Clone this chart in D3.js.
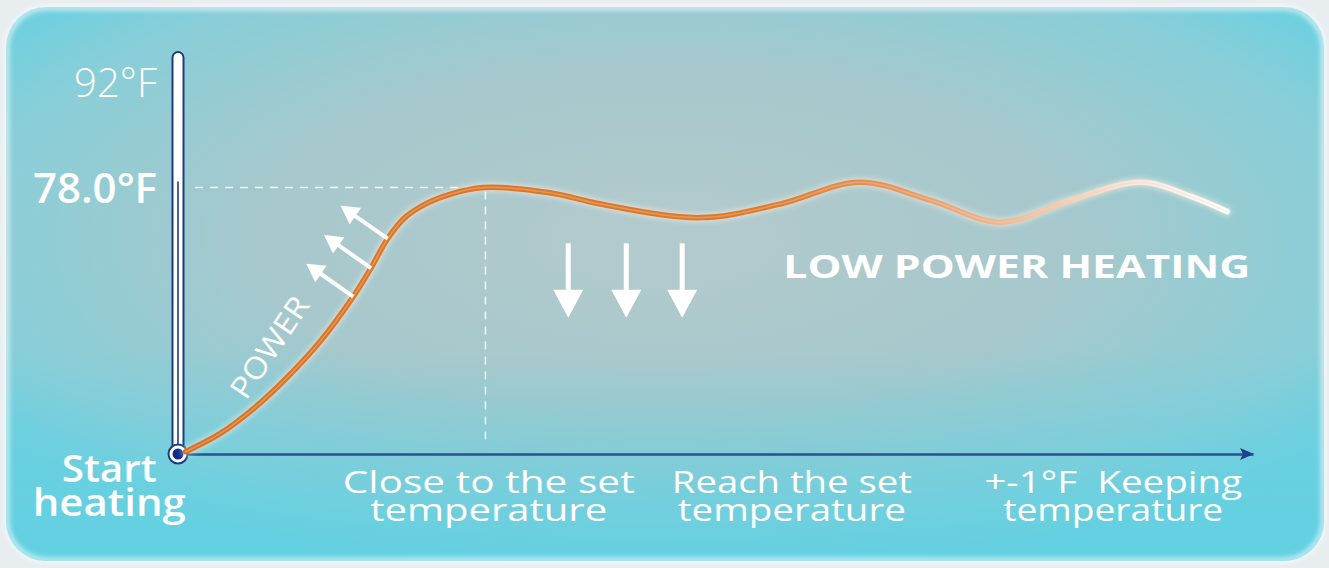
<!DOCTYPE html>
<html>
<head>
<meta charset="utf-8">
<script src="https://cdn.jsdelivr.net/npm/d3@7"></script>
<style>
  html, body { margin: 0; padding: 0; background: #e8eef0; }
  svg { display: block; font-family: "Open Sans", sans-serif; }
</style>
</head>
<body>
<script>
// heating curve (time in % of the cycle, temperature in °F)
const timeMin = [0.7, 3.9, 7.0, 10.1, 13.2, 16.3, 17.95, 19.5, 21.1, 23.0, 25.3, 28.4, 34.6, 39.3, 48.6, 56.0, 63.4, 70.0, 76.5, 83.0, 89.5, 94.1, 97.6];
const tempF   = [42.9, 45.3, 48.6, 52.7, 57.5, 63.5, 67.3, 71.2, 74.0, 75.8, 77.1, 78.0, 77.3, 75.8, 74.0, 75.8, 78.7, 76.3, 73.4, 76.3, 78.7, 76.9, 74.8];

// y tick labels (thermometer)
const yTicks = [92, 78];
const yTickLabels = ["92°F", "78.0°F"];

// set point
const setTemp = 78;
const setTime = 28.6;

// phase labels under the time axis
const phaseTimes = [-6.4, 28.9, 57.1, 87.0];
const phaseLines = [
  ["Start", "heating"],
  ["Close to the set", "temperature"],
  ["Reach the set", "temperature"],
  ["+-1°F\u00a0 Keeping", "temperature"]
];

// annotation arrows
const powerArrowTimes = [16.3, 17.95, 19.5];
const powerArrowTemps = [63.5, 67.3, 71.2];
const coolArrowTimes = [36.3, 41.7, 46.9];
const coolArrowTop = 70.6, coolArrowTip = 60.7;

window.onload = function () {
  const w = 1329, h = 568;

  const svg = d3.select("body").append("svg")
    .attr("width", w)
    .attr("height", h);

  //scales
  const x = d3.scaleLinear().domain([0, 100]).range([178, 1253]);
  const y = d3.scaleLinear().domain([42.6, 96]).range([454, 52]);
  const x0 = x(0), yBase = y(42.6);

  const defs = svg.append("defs");

  //panel background
  const bg = defs.append("radialGradient").attr("id", "bg")
    .attr("cx", 0.5).attr("cy", 0.42).attr("r", 0.62);
  bg.append("stop").attr("offset", 0).attr("stop-color", "#b3cacd");
  bg.append("stop").attr("offset", 0.5).attr("stop-color", "#a6c8cc");
  bg.append("stop").attr("offset", 0.85).attr("stop-color", "#89ced8");
  bg.append("stop").attr("offset", 1).attr("stop-color", "#70d0df");

  const bottomGlow = defs.append("linearGradient").attr("id", "bottomGlow")
    .attr("x1", 0).attr("y1", 0).attr("x2", 0).attr("y2", 1);
  bottomGlow.append("stop").attr("offset", 0.62).attr("stop-color", "#5fd0e2").attr("stop-opacity", 0);
  bottomGlow.append("stop").attr("offset", 1).attr("stop-color", "#5fd0e2").attr("stop-opacity", 0.8);

  //curve colour fades to white at the end
  const heat = defs.append("linearGradient").attr("id", "heat")
    .attr("gradientUnits", "userSpaceOnUse")
    .attr("x1", x(timeMin[0])).attr("x2", x(timeMin[timeMin.length - 1]))
    .attr("y1", 0).attr("y2", 0);
  [[0, "#dc7223"], [0.55, "#de7a2c"], [0.68, "#e7955e"], [0.8, "#efbe9d"], [0.9, "#f7e4d9"], [1, "#ffffff"]]
    .forEach(s => heat.append("stop").attr("offset", s[0]).attr("stop-color", s[1]));

  const blur = defs.append("filter").attr("id", "blur")
    .attr("x", "-10%").attr("y", "-10%").attr("width", "120%").attr("height", "120%");
  blur.append("feGaussianBlur").attr("stdDeviation", 2.5);

  //panel
  svg.append("rect")
    .attr("x", 6).attr("y", 7).attr("width", 1318).attr("height", 554).attr("rx", 40)
    .style("fill", "url(#bg)");
  svg.append("rect")
    .attr("x", 6).attr("y", 7).attr("width", 1318).attr("height", 554).attr("rx", 40)
    .style("fill", "url(#bottomGlow)");
  svg.append("rect")
    .attr("x", 7).attr("y", 8).attr("width", 1316).attr("height", 552).attr("rx", 40)
    .style("fill", "none")
    .style("stroke", "#ffffff")
    .style("stroke-opacity", 0.75)
    .style("stroke-width", 4)
    .attr("filter", "url(#blur)");

  //dashed set point guides
  const guide = svg.append("g")
    .style("stroke", "#ffffff")
    .style("stroke-opacity", 0.85)
    .style("stroke-width", 1.5)
    .style("stroke-dasharray", "8,7");
  guide.append("line")
    .attr("x1", x0 + 17).attr("x2", x(setTime))
    .attr("y1", y(setTemp)).attr("y2", y(setTemp));
  guide.append("line")
    .attr("x1", x(setTime)).attr("x2", x(setTime))
    .attr("y1", y(setTemp) + 4).attr("y2", yBase - 10);

  //time axis
  const xAxis = svg.append("g")
    .attr("transform", `translate(0,${yBase})`)
    .call(d3.axisBottom(x).tickValues([]).tickSizeOuter(0));
  xAxis.select(".domain")
    .style("stroke", "#2b4f90")
    .style("stroke-width", 2.5);
  svg.append("path")
    .attr("d", `M${x(100) + 1},${yBase} L${x(100) - 13},${yBase - 6} L${x(100) - 10},${yBase} L${x(100) - 13},${yBase + 6} Z`)
    .style("fill", "#1f4190");

  //thermometer
  svg.append("rect")
    .attr("x", x0 - 5.5).attr("y", y(96))
    .attr("width", 11).attr("height", yBase - y(96))
    .attr("rx", 5.5)
    .style("fill", "#ffffff")
    .style("stroke", "#1f3d7c")
    .style("stroke-width", 2);
  svg.append("line")
    .attr("x1", x0).attr("x2", x0)
    .attr("y1", y(setTemp) - 6).attr("y2", yBase)
    .style("stroke", "#1f3d7c")
    .style("stroke-width", 1.6);
  svg.append("circle")
    .attr("cx", x0).attr("cy", yBase).attr("r", 9.5)
    .style("fill", "#ffffff")
    .style("stroke", "#1f3d7c")
    .style("stroke-width", 2);
  svg.append("circle")
    .attr("cx", x0).attr("cy", yBase).attr("r", 5.5)
    .style("fill", "#0b2c88");

  //temperature labels
  const yAxis = svg.append("g")
    .attr("transform", `translate(${x0 - 21},0)`)
    .call(d3.axisLeft(y).tickValues(yTicks).tickSize(0).tickPadding(0)
      .tickFormat((d, i) => yTickLabels[i]));
  yAxis.select(".domain").remove();
  yAxis.selectAll("text")
    .attr("dy", "0.36em")
    .style("font-family", "'Open Sans', sans-serif")
    .style("fill", "#ffffff")
    .style("font-size", (d, i) => i === 0 ? "40px" : "42px")
    .style("font-weight", (d, i) => i === 0 ? 300 : 600);

  //heating curve
  const line = d3.line()
    .x((d, i) => x(timeMin[i]))
    .y(d => y(d))
    .curve(d3.curveCatmullRom.alpha(0.5));

  svg.append("path")
    .datum(tempF)
    .attr("d", line)
    .style("fill", "none")
    .style("stroke", "#fff3e6")
    .style("stroke-opacity", 0.5)
    .style("stroke-width", 9)
    .style("stroke-linecap", "round")
    .attr("filter", "url(#blur)");
  svg.append("path")
    .datum(tempF)
    .attr("d", line)
    .style("fill", "none")
    .style("stroke", "url(#heat)")
    .style("stroke-width", 5.5)
    .style("stroke-linecap", "round");
  svg.append("path")
    .datum(tempF)
    .attr("d", line)
    .style("fill", "none")
    .style("stroke", "#ffd2a8")
    .style("stroke-opacity", 0.35)
    .style("stroke-width", 1.5)
    .style("stroke-linecap", "round");

  //arrow polygon from base to tip
  function arrow(bx, by, tx, ty, headLen, headW, shaftW) {
    const len = Math.hypot(tx - bx, ty - by);
    const ux = (tx - bx) / len, uy = (ty - by) / len;
    const px = -uy, py = ux;
    const hx = tx - ux * headLen, hy = ty - uy * headLen;
    const pts = [
      [bx + px * shaftW / 2, by + py * shaftW / 2],
      [hx + px * shaftW / 2, hy + py * shaftW / 2],
      [hx + px * headW / 2, hy + py * headW / 2],
      [tx, ty],
      [hx - px * headW / 2, hy - py * headW / 2],
      [hx - px * shaftW / 2, hy - py * shaftW / 2],
      [bx - px * shaftW / 2, by - py * shaftW / 2]
    ];
    return "M" + pts.map(p => p.join(",")).join("L") + "Z";
  }

  //power arrows leaving the curve
  svg.selectAll(".powerArrow")
    .data(powerArrowTimes)
    .enter()
    .append("path")
    .attr("class", "powerArrow")
    .attr("d", (d, i) => {
      const bx = x(d), by = y(powerArrowTemps[i]);
      return arrow(bx, by, bx - 47, by - 33, 18, 20, 4);
    })
    .style("fill", "#ffffff");

  //cooling arrows
  svg.selectAll(".coolArrow")
    .data(coolArrowTimes)
    .enter()
    .append("path")
    .attr("class", "coolArrow")
    .attr("d", d => arrow(x(d), y(coolArrowTop), x(d), y(coolArrowTip), 28, 30, 5))
    .style("fill", "#ffffff");

  //POWER along the rising curve
  svg.append("text")
    .attr("transform", `translate(${x(8.5)},${y(56.8)}) rotate(-56)`)
    .attr("text-anchor", "middle")
    .attr("dy", "0.36em")
    .attr("textLength", 116)
    .attr("lengthAdjust", "spacingAndGlyphs")
    .style("font-size", "30px")
    .style("font-weight", 400)
    .style("fill", "#ffffff")
    .text("POWER");

  svg.append("text")
    .attr("x", x(56.3))
    .attr("y", y(66))
    .attr("textLength", 467)
    .attr("lengthAdjust", "spacingAndGlyphs")
    .style("font-size", "32px")
    .style("font-weight", 700)
    .style("fill", "#ffffff")
    .text("LOW POWER HEATING");

  //phase labels
  const widths = [[95, 153], [292, 237], [240, 228], [258, 220]];
  const labels = svg.selectAll(".phase")
    .data(phaseTimes)
    .enter()
    .append("text")
    .attr("class", "phase")
    .attr("text-anchor", "middle")
    .style("fill", "#ffffff")
    .style("font-size", (d, i) => i === 0 ? "37px" : "31px")
    .style("font-weight", (d, i) => i === 0 ? 600 : 400);

  labels.each(function (d, i) {
    const t = d3.select(this);
    phaseLines[i].forEach((s, j) => {
      t.append("tspan")
        .attr("x", x(d))
        .attr("y", i === 0 ? yBase + 28 + j * 34 : yBase + 39 + j * 28)
        .attr("textLength", widths[i][j])
        .attr("lengthAdjust", "spacingAndGlyphs")
        .text(s);
    });
  });
};
</script>
</body>
</html>
